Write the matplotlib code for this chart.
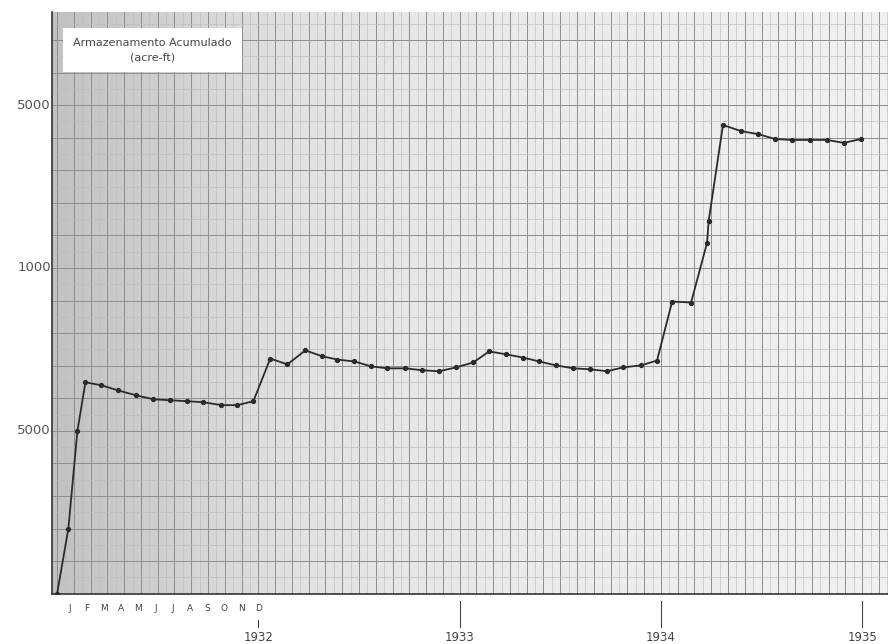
import numpy as np
import matplotlib
matplotlib.use("Agg")
import matplotlib.pyplot as plt
from matplotlib.ticker import MultipleLocator

# meses desde jan/1931 e armazenamento acumulado (acre-ft)
meses = [0.0, 0.67, 1.21, 1.69, 2.64, 3.65, 4.73, 5.74, 6.75, 7.77, 8.72,
         9.80, 10.75, 11.70, 12.71, 13.73, 14.80, 15.81, 16.70, 17.72,
         18.73, 19.68, 20.76, 21.77, 22.78, 23.79, 24.81, 25.76, 26.77,
         27.78, 28.74, 29.75, 30.77, 31.78, 32.79, 33.75, 34.82, 35.77,
         36.67, 37.80, 38.75, 38.85, 39.70, 40.78, 41.79, 42.80, 43.81,
         44.89, 45.90, 46.91, 47.93]
armazenamento = [0, 1990, 4990, 6490, 6400, 6240, 6090, 5970, 5940, 5910,
                 5880, 5790, 5790, 5910, 7220, 7040, 7470, 7290, 7190, 7130,
                 6980, 6920, 6920, 6860, 6830, 6950, 7100, 7440, 7350, 7250,
                 7130, 7010, 6920, 6890, 6830, 6950, 7010, 7160, 8970, 8940,
                 10770, 11450, 14390, 14200, 14110, 13960, 13930, 13930,
                 13930, 13840, 13960]

letras_meses = ["J", "F", "M", "A", "M", "J", "J", "A", "S", "O", "N", "D"]
anos = ["1932", "1933", "1934", "1935"]
pos_anos = [12, 24, 36, 48]
y_ticks = [5000, 10000, 15000]
y_labels = ["5000", "1000", "5000"]

fig = plt.figure(figsize=(8.88, 6.44), dpi=100)
ax = fig.add_axes([0.059, 0.078, 0.941, 0.903])

x0, x1 = -0.28, 49.54
y0, y1 = 0, 17850
ax.set_xlim(x0, x1)
ax.set_ylim(y0, y1)

# fundo do papel (mais escuro a esquerda, como no scan)
xx = np.linspace(x0, x1, 400)
tom = np.interp(xx, [x0, 4, 9, 14, 20, 30, 49.5], [0.76, 0.79, 0.84, 0.88, 0.90, 0.92, 0.94])
ax.imshow(np.tile(tom, (2, 1)), cmap="gray", vmin=0, vmax=1, aspect="auto",
          extent=[x0, x1, y0, y1], zorder=0, interpolation="bilinear")

# grade milimetrada
ax.xaxis.set_major_locator(MultipleLocator(1))
ax.xaxis.set_minor_locator(MultipleLocator(0.5))
ax.yaxis.set_major_locator(MultipleLocator(1000))
ax.yaxis.set_minor_locator(MultipleLocator(500))
ax.grid(which="major", color="#8e8e8e", lw=0.7, zorder=1)
ax.grid(which="minor", color="#bdbdbd", lw=0.45, zorder=1)
ax.set_axisbelow(True)
ax.tick_params(which="both", length=0, labelbottom=False, labelleft=False)

ax.plot(meses, armazenamento, color="#2b2b2b", lw=1.3, marker="o", ms=2.8, zorder=5)

# rotulos do eixo y
for v, t in zip(y_ticks, y_labels):
    ax.text(-0.002, v, t, transform=ax.get_yaxis_transform(), ha="right", va="center",
            fontsize=9.5, color="#555555")

# meses e anos no eixo x
trans = ax.get_xaxis_transform()
for i, l in enumerate(letras_meses):
    ax.text(0.75 + i * (11.25 / 11), -0.018, l, transform=trans, ha="center", va="top",
            fontsize=6.5, color="#444444")
for p, a in zip(pos_anos, anos):
    ax.plot([p, p], [-0.012 if p != 12 else -0.045, -0.058], transform=trans,
            color="#444444", lw=0.8, clip_on=False)
    ax.text(p, -0.064, a, transform=trans, ha="center", va="top", fontsize=8.5, color="#444444")

for s in ["top", "right"]:
    ax.spines[s].set_visible(False)
ax.spines["left"].set_color("#333333")
ax.spines["bottom"].set_color("#333333")
ax.spines["left"].set_linewidth(1.2)
ax.spines["bottom"].set_linewidth(1.2)

# caixa do titulo
ax.text(0.12, 0.935, "Armazenamento Acumulado\n(acre-ft)", transform=ax.transAxes,
        ha="center", va="center", fontsize=8, color="#444444", linespacing=1.5, zorder=10,
        bbox=dict(boxstyle="square,pad=0.9", fc="white", ec="none"))

fig.savefig("out.png", dpi=100)
